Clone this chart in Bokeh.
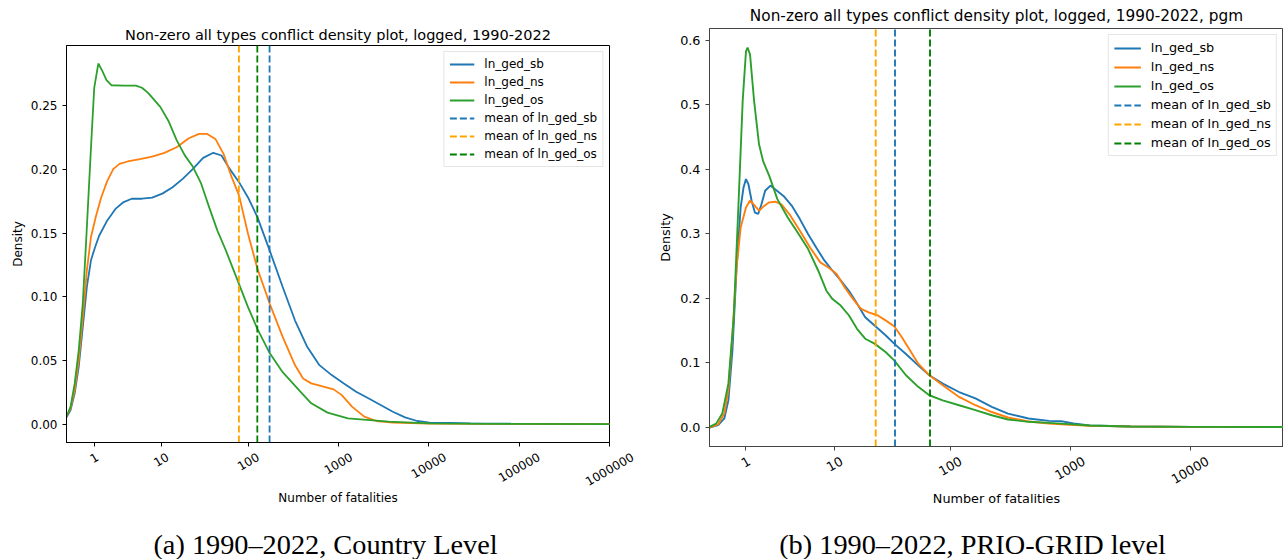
import math
from bokeh.plotting import figure
from bokeh.models import Range1d, FixedTicker, CustomJSTickFormatter, Legend, LegendItem
from bokeh.layouts import column, row
from bokeh.embed import file_html
from bokeh.resources import INLINE
from bokeh.core.properties import value

# ---------------- data (x = ln(1 + fatalities), y = density) ----------------
SERIES = ["ln_ged_sb", "ln_ged_ns", "ln_ged_os"]
CAPTIONS = ["(a) 1990\u20132022, Country Level", "(b) 1990\u20132022, PRIO-GRID level"]
TITLES = ["Non-zero all types conflict density plot, logged, 1990-2022",
          "Non-zero all types conflict density plot, logged, 1990-2022, pgm"]
XLABEL = "Number of fatalities"
YLABEL = "Density"
TICK_LABELS_A = [1, 10, 100, 1000, 10000, 100000, 1000000]
TICK_LABELS_B = [1, 10, 100, 1000, 10000]
YTICKS_A = [0.0, 0.05, 0.10, 0.15, 0.20, 0.25]
YTICKS_B = [0.0, 0.1, 0.2, 0.3, 0.4, 0.5, 0.6]

# Country level
A_SB_X = [-0.009, 0.095, 0.199, 0.302, 0.406, 0.510, 0.614, 0.718, 0.822, 1.029, 1.237, 1.445, 1.652, 1.912, 2.172,
          2.431, 2.691, 2.950, 3.210, 3.470, 3.729, 3.937, 4.145, 4.384, 4.612, 4.851, 5.163, 5.495, 5.807, 6.119,
          6.430, 6.742, 7.053, 7.365, 7.676, 7.988, 8.299, 8.611, 8.922, 9.233, 9.752, 10.27, 11.31, 13.82]
A_SB_Y = [0.0056, 0.0113, 0.0244, 0.0452, 0.0765, 0.108, 0.1287, 0.139, 0.148, 0.160, 0.169, 0.1744, 0.177, 0.177,
          0.1778, 0.181, 0.186, 0.1926, 0.2004, 0.209, 0.213, 0.2109, 0.2004, 0.190, 0.178, 0.1626, 0.1365, 0.1078,
          0.0817, 0.0609, 0.0465, 0.0387, 0.0322, 0.0257, 0.0205, 0.0153, 0.010, 0.0056, 0.0027, 0.0014, 0.0012,
          0.0009, 0.0006, 0.0003]
A_NS_X = [-0.009, 0.095, 0.199, 0.302, 0.406, 0.510, 0.614, 0.739, 0.874, 1.029, 1.185, 1.341, 1.549, 1.860, 2.172,
          2.483, 2.795, 3.106, 3.366, 3.573, 3.781, 3.989, 4.196, 4.384, 4.612, 4.851, 5.163, 5.495, 5.807, 6.014,
          6.222, 6.533, 6.793, 7.0, 7.26, 7.572, 7.883, 8.299, 9.233, 10.79, 13.82]
A_NS_Y = [0.0061, 0.0126, 0.027, 0.050, 0.084, 0.121, 0.147, 0.163, 0.178, 0.191, 0.2004, 0.2043, 0.2062, 0.208,
          0.210, 0.213, 0.2174, 0.2244, 0.2278, 0.2278, 0.2239, 0.2122, 0.1939, 0.1796, 0.1496, 0.1222, 0.0948,
          0.0687, 0.0466, 0.0361, 0.0322, 0.0296, 0.0275, 0.023, 0.014, 0.0061, 0.0027, 0.0014, 0.0007, 0.0004, 0.0003]
A_OS_X = [-0.009, 0.095, 0.199, 0.302, 0.406, 0.510, 0.614, 0.697, 0.801, 0.905, 1.009, 1.133, 1.445, 1.756, 1.912,
          2.068, 2.379, 2.587, 2.795, 3.003, 3.210, 3.418, 3.626, 3.833, 4.041, 4.384, 4.612, 4.851, 5.163, 5.495,
          5.910, 6.222, 6.637, 7.156, 8.194, 9.233, 10.79, 13.82]
A_OS_Y = [0.0061, 0.014, 0.032, 0.058, 0.095, 0.155, 0.217, 0.264, 0.283, 0.277, 0.270, 0.266, 0.2657, 0.2657, 0.264,
          0.260, 0.249, 0.238, 0.223, 0.211, 0.202, 0.189, 0.170, 0.152, 0.137, 0.110, 0.092, 0.075, 0.056, 0.041,
          0.027, 0.0166, 0.0093, 0.0048, 0.0022, 0.0009, 0.0004, 0.0003]
A_MEANS = [5.161, 4.381, 4.849]   # sb, ns, os (in ln units)

# PRIO-GRID level
B_SB_X = [0.0, 0.166, 0.284, 0.362, 0.440, 0.519, 0.597, 0.652, 0.699, 0.746, 0.808, 0.871, 0.933, 0.996, 1.066,
          1.168, 1.262, 1.418, 1.575, 1.732, 1.888, 2.045, 2.201, 2.358, 2.514, 2.671, 2.827, 2.984, 3.163, 3.374,
          3.539, 3.765, 4.0, 4.212, 4.47, 4.783, 5.096, 5.41, 5.72, 6.114, 6.505, 6.74, 6.974, 7.288, 8.07, 9.245, 11.2]
B_SB_Y = [0.0, 0.0036, 0.014, 0.042, 0.120, 0.248, 0.341, 0.372, 0.385, 0.377, 0.351, 0.333, 0.331, 0.346, 0.367,
          0.375, 0.369, 0.359, 0.344, 0.323, 0.300, 0.279, 0.259, 0.243, 0.228, 0.212, 0.192, 0.171, 0.158, 0.143,
          0.130, 0.114, 0.0963, 0.081, 0.068, 0.055, 0.045, 0.032, 0.0216, 0.0139, 0.0103, 0.0098, 0.0062, 0.0031,
          0.0015, 0.001, 0.0008]
B_NS_X = [0.0, 0.166, 0.284, 0.362, 0.440, 0.519, 0.597, 0.699, 0.777, 0.855, 0.949, 1.027, 1.145, 1.262, 1.379,
          1.536, 1.732, 1.927, 2.123, 2.279, 2.436, 2.592, 2.749, 2.905, 3.062, 3.218, 3.374, 3.539, 3.687, 3.844,
          4.0, 4.212, 4.47, 4.783, 5.096, 5.41, 5.72, 6.114, 6.505, 6.896, 7.288, 8.07, 9.245, 11.2]
B_NS_Y = [0.0, 0.005, 0.0216, 0.058, 0.145, 0.248, 0.310, 0.341, 0.352, 0.345, 0.336, 0.342, 0.349, 0.350, 0.346,
          0.330, 0.305, 0.279, 0.256, 0.248, 0.238, 0.217, 0.1994, 0.184, 0.178, 0.174, 0.166, 0.157, 0.140, 0.1195,
          0.099, 0.081, 0.0654, 0.0474, 0.0345, 0.024, 0.0155, 0.0093, 0.0062, 0.0041, 0.0026, 0.0015, 0.001, 0.0008]
B_OS_X = [0.0, 0.127, 0.245, 0.362, 0.464, 0.558, 0.636, 0.699, 0.730, 0.777, 0.855, 0.949, 1.027, 1.145, 1.301,
          1.497, 1.692, 1.888, 2.084, 2.240, 2.357, 2.514, 2.670, 2.827, 2.983, 3.163, 3.374, 3.539, 3.765, 4.0,
          4.212, 4.47, 4.783, 5.096, 5.41, 5.72, 6.114, 6.505, 6.896, 7.288, 8.07, 9.245, 11.2]
B_OS_Y = [0.001, 0.006, 0.0216, 0.068, 0.171, 0.351, 0.506, 0.583, 0.589, 0.578, 0.506, 0.439, 0.413, 0.390, 0.354,
          0.326, 0.302, 0.277, 0.243, 0.212, 0.199, 0.189, 0.174, 0.153, 0.1376, 0.130, 0.117, 0.104, 0.081, 0.063,
          0.050, 0.042, 0.0345, 0.0268, 0.019, 0.0124, 0.0088, 0.0072, 0.0052, 0.0031, 0.0015, 0.001, 0.0008]
B_MEANS = [3.555, 3.185, 4.226]   # sb, ns, os

CURVE_COLORS = ["#1f77b4", "#ff7f0e", "#2ca02c"]
MEAN_COLORS = ["#1f77b4", "#ffa500", "#008000"]
FONT = "DejaVu Sans"
ROT = math.pi / 6
TOTAL_H = 559


def no_align(fig):
    if "frame_align" in fig.properties():
        fig.frame_align = False


def make_panel(curves, means, tick_labels, yticks, ydec, x_start, x_end, title, caption, cfg):
    fs = cfg["fs"]
    fsn = float(fs.replace("px", ""))
    axcol = cfg["axcol"]
    lw = cfg["lw"]
    w, bl, br, bt, fh = cfg["w"], cfg["bl"], cfg["br"], cfg["bt"], cfg["fh"]
    bb = 6
    ymax = max(max(c[1]) for c in curves)
    ylo, yhi = -0.05 * ymax, 1.05 * ymax
    p = figure(width=w, height=bt + fh + bb, output_backend="svg", toolbar_location=None,
               x_range=Range1d(x_start, x_end), y_range=Range1d(ylo, yhi),
               min_border_left=bl, min_border_right=br, min_border_top=bt, min_border_bottom=bb)
    no_align(p)
    p.grid.visible = False
    p.background_fill_color = "white"
    p.border_fill_color = "white"
    p.outline_line_color = axcol
    p.outline_line_width = 1

    p.title.text = title
    p.title.text_font = FONT
    p.title.text_font_size = cfg["tfs"]
    p.title.text_font_style = "normal"
    p.title.text_color = "black"
    p.title.align = "center"
    p.title.standoff = cfg["tstand"]

    xt = [math.log1p(v) for v in tick_labels]
    p.xaxis.ticker = FixedTicker(ticks=xt, minor_ticks=[])
    p.xaxis.formatter = CustomJSTickFormatter(code="return '';")
    p.yaxis.ticker = FixedTicker(ticks=yticks, minor_ticks=[])
    p.yaxis.formatter = CustomJSTickFormatter(code="return tick.toFixed(%d);" % ydec)
    p.yaxis.axis_label = YLABEL
    for ax in (p.xaxis[0], p.yaxis[0]):
        ax.axis_line_color = axcol
        ax.major_tick_line_color = axcol
        ax.major_tick_out = 4
        ax.major_tick_in = 0
        ax.minor_tick_line_color = None
        ax.major_label_text_font = FONT
        ax.major_label_text_font_size = fs
        ax.major_label_text_color = "black"
        ax.major_label_standoff = 5
        ax.axis_label_text_font = FONT
        ax.axis_label_text_font_size = fs
        ax.axis_label_text_font_style = "normal"
        ax.axis_label_text_color = "black"
    p.yaxis.axis_label_standoff = cfg["ylab_stand"]
    p.xaxis.major_label_text_font_size = "0px"
    p.xaxis.major_label_standoff = 0

    items = []
    for (xs, ys), name, col in zip(curves, SERIES, CURVE_COLORS):
        r = p.line(xs, ys, line_color=col, line_width=lw)
        items.append(LegendItem(label=name, renderers=[r]))
    for m, name, col in zip(means, SERIES, MEAN_COLORS):
        r = p.segment(x0=[m], y0=[ylo], x1=[m], y1=[yhi], line_color=col, line_width=lw, line_dash="7 3")
        items.append(LegendItem(label="mean of " + name, renderers=[r]))

    gh, sp, pad, gw = cfg["leg"]
    legend = Legend(items=items, location="top_right", margin=6, padding=pad, spacing=sp,
                    glyph_width=gw, glyph_height=gh, label_height=gh, label_standoff=10,
                    label_text_font=FONT, label_text_font_size=fs, label_text_color="black",
                    border_line_color="#cccccc", border_line_width=1,
                    background_fill_color="white", background_fill_alpha=0.8)
    p.add_layout(legend)

    # strip below the frame: rotated tick labels, x-axis label, caption.
    # Same horizontal scale as the plot; vertical unit = 1 px measured down from the frame bottom.
    fw = w - bl - br
    k = (x_end - x_start) / fw
    sh = TOTAL_H - (bt + fh + bb)
    s = figure(width=w, height=sh, output_backend="svg", toolbar_location=None,
               x_range=Range1d(x_start - bl * k, x_end + br * k), y_range=Range1d(-(sh + bb), -bb),
               min_border_left=0, min_border_right=0, min_border_top=0, min_border_bottom=0)
    no_align(s)
    s.axis.visible = False
    s.grid.visible = False
    s.outline_line_color = None
    s.background_fill_color = "white"
    s.border_fill_color = "white"

    labels = [str(v) for v in tick_labels]
    ys_lab = []
    for lab in labels:
        tw = len(lab) * 0.636 * fsn
        bh = tw * math.sin(ROT) + fsn * math.cos(ROT)
        ys_lab.append(-(8.0 + bh / 2.0))
    s.text(x=xt, y=ys_lab, text=labels, angle=ROT, text_align="center", text_baseline="middle",
           text_font=value(FONT), text_font_size=fs, text_color="black")
    xmid = (x_start + x_end) / 2.0
    s.text(x=[xmid], y=[-cfg["xlab_y"]], text=[XLABEL], text_align="center", text_baseline="middle",
           text_font=value(FONT), text_font_size=fs, text_color="black")
    s.text(x=[xmid], y=[-cfg["cap_y"]], text=[caption], x_offset=cfg["cap_dx"], text_align="center",
           text_baseline="middle", text_font=value("Liberation Serif"), text_font_size="28.3px",
           text_color="black")
    return column(p, s)


pa = make_panel([(A_SB_X, A_SB_Y), (A_NS_X, A_NS_Y), (A_OS_X, A_OS_Y)], A_MEANS, TICK_LABELS_A, YTICKS_A, 2,
                -0.009, math.log1p(1000000), TITLES[0], CAPTIONS[0],
                dict(fs="12px", tfs="14.5px", lw=1.8, axcol="black", w=648, bl=66, br=39, bt=45, fh=397,
                     tstand=6, ylab_stand=3, xlab_y=55, cap_y=102, cap_dx=-12.5, leg=(14, 4, 5, 25)))
pb = make_panel([(B_SB_X, B_SB_Y), (B_NS_X, B_NS_Y), (B_OS_X, B_OS_Y)], B_MEANS, TICK_LABELS_B, YTICKS_B, 1,
                0.0, 11.0, TITLES[1], CAPTIONS[1],
                dict(fs="12.8px", tfs="15.3px", lw=1.9, axcol="#444444", w=635, bl=61, br=0, bt=28, fh=418,
                     tstand=8, ylab_stand=4, xlab_y=52, cap_y=98, cap_dx=-24, leg=(14, 4, 5, 27)))

layout = row(pa, pb)
open("out.html", "w").write(file_html(layout, INLINE))
